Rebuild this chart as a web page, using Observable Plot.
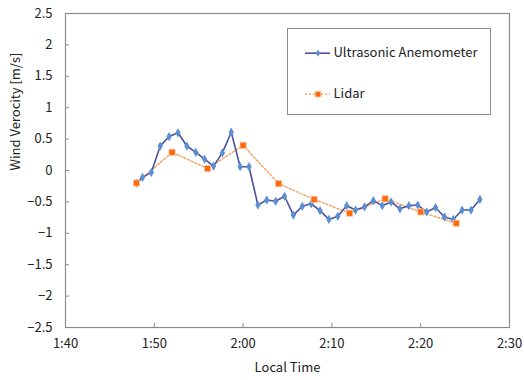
<!DOCTYPE html>
<html>
<head>
<meta charset="utf-8">
<script src="https://cdn.jsdelivr.net/npm/d3@7"></script>
<script src="https://cdn.jsdelivr.net/npm/@observablehq/plot@0.6"></script>
<style>
  html, body { margin: 0; padding: 0; background: #fff; }
  #wrap { position: relative; width: 524px; height: 380px; font-family: "Noto Sans CJK JP", "DejaVu Sans", sans-serif; }
  #legend { position: absolute; left: 287px; top: 28px; width: 204px; height: 87px; border: 1px solid #8c8c8c; background: #fff; box-sizing: border-box; }
</style>
</head>
<body>
<div id="wrap"><div id="chart"></div><div id="legend"></div></div>
<script>
const anemTime = ["1:48:00","1:48:40","1:49:40","1:50:40","1:51:40","1:52:40","1:53:40","1:54:40","1:55:40","1:56:40",
  "1:57:40","1:58:40","1:59:40","2:00:40","2:01:40","2:02:40","2:03:40","2:04:40","2:05:40","2:06:40",
  "2:07:40","2:08:40","2:09:40","2:10:40","2:11:40","2:12:40","2:13:40","2:14:40","2:15:40","2:16:40",
  "2:17:40","2:18:40","2:19:40","2:20:40","2:21:40","2:22:40","2:23:40","2:24:40","2:25:40","2:26:40"];
const anemValue = [-0.20,-0.11,-0.03,0.39,0.54,0.60,0.39,0.29,0.18,0.07,
  0.28,0.61,0.06,0.06,-0.55,-0.47,-0.49,-0.41,-0.71,-0.57,
  -0.53,-0.64,-0.78,-0.73,-0.56,-0.63,-0.58,-0.48,-0.56,-0.50,
  -0.61,-0.56,-0.55,-0.66,-0.59,-0.74,-0.78,-0.63,-0.63,-0.46];
const lidarTime = ["1:48:00","1:52:00","1:56:00","2:00:00","2:04:00","2:08:00","2:12:00","2:16:00","2:20:00","2:24:00"];
const lidarValue = [-0.20,0.29,0.03,0.40,-0.21,-0.46,-0.68,-0.45,-0.66,-0.84];
const xTickLabels = ["1:40","1:50","2:00","2:10","2:20","2:30"];
const yTicks = [-2.5,-2,-1.5,-1,-0.5,0,0.5,1,1.5,2,2.5];
const seriesNames = ["Ultrasonic Anemometer", "Lidar"];

const parseT = s => { const p = s.split(":").map(Number); return new Date(Date.UTC(2000,0,1,p[0],p[1],p[2]||0)); };
const anem = anemTime.map((t,i) => ({t: parseT(t), v: anemValue[i]}));
const lidar = lidarTime.map((t,i) => ({t: parseT(t), v: lidarValue[i]}));
const xTicks = xTickLabels.map(parseT);

const W = 524, H = 380, mL = 65, mR = 15, mT = 13, mB = 53;
const pw = W - mL - mR, ph = H - mT - mB;
const font = "\"Noto Sans CJK JP\", \"DejaVu Sans\", sans-serif";

const chart = Plot.plot({
  width: W, height: H,
  marginLeft: mL, marginRight: mR, marginTop: mT, marginBottom: mB,
  style: {fontFamily: font, fontSize: "13px", color: "#222", background: "#fff"},
  x: {type: "utc", domain: [xTicks[0], xTicks[xTicks.length-1]], ticks: xTicks, tickFormat: d3.utcFormat("%-H:%M"), tickSize: 0, tickPadding: 11, label: null},
  y: {domain: [-2.5, 2.5], ticks: yTicks, tickFormat: d => d3.format("")(d).replace("-", "\u2212"), tickSize: 0, tickPadding: 13, label: null},
  marks: [
    Plot.tickX(xTicks, {x: d => d, stroke: "#8c8c8c", insetTop: ph - 4}),
    Plot.tickY(yTicks, {y: d => d, stroke: "#8c8c8c", insetRight: pw - 4}),
    Plot.frame({stroke: "#8c8c8c", strokeWidth: 1.2}),
    Plot.line(lidar, {x: "t", y: "v", stroke: "#f2a86a", strokeWidth: 1.5, strokeDasharray: "2,2"}),
    Plot.line(anem, {x: "t", y: "v", stroke: "#4a52a0", strokeWidth: 1.6}),
    Plot.dot(anem, {x: "t", y: "v", symbol: "diamond", r: 2.8, fill: "#5b8fd2", stroke: "none"}),
    Plot.dot(lidar, {x: "t", y: "v", symbol: "square", r: 3.5, fill: "#ff6a0a", stroke: "#f5c9a8", strokeWidth: 0.8}),
    Plot.text(["Wind Verocity [m/s]"], {text: d => d, frameAnchor: "left", dx: -50, rotate: -90, fontSize: 13, fill: "#222"}),
    Plot.text(["Local Time"], {text: d => d, frameAnchor: "bottom", dy: 44, fontSize: 13, fill: "#222"})
  ]
});
document.getElementById("chart").appendChild(chart);

const legendData = [
  {name: seriesNames[0], row: 0},
  {name: seriesNames[1], row: 1}
];
const legend = Plot.plot({
  width: 202, height: 85, margin: 0,
  style: {fontFamily: font, fontSize: "13px", color: "#222", background: "#fff"},
  x: {domain: [0, 202], axis: null},
  y: {domain: [0, 85], axis: null},
  marks: [
    Plot.ruleY([legendData[0]], {y: () => 61.3, x1: 17, x2: 42, stroke: "#4a52a0", strokeWidth: 1.6}),
    Plot.dot([legendData[0]], {x: () => 29.5, y: () => 61.3, symbol: "diamond", r: 2.2, fill: "#5b8fd2"}),
    Plot.ruleY([legendData[1]], {y: () => 20.3, x1: 17, x2: 42, stroke: "#f2a86a", strokeWidth: 1.5, strokeDasharray: "2,2"}),
    Plot.dot([legendData[1]], {x: () => 29.5, y: () => 20.3, symbol: "square", r: 3.2, fill: "#ff6a0a", stroke: "#f5c9a8", strokeWidth: 0.8}),
    Plot.text(legendData, {x: () => 45, y: d => d.row === 0 ? 61.3 : 20.3, text: "name", textAnchor: "start", fontSize: 13, fill: "#222"})
  ]
});
document.getElementById("legend").appendChild(legend);
</script>
</body>
</html>
